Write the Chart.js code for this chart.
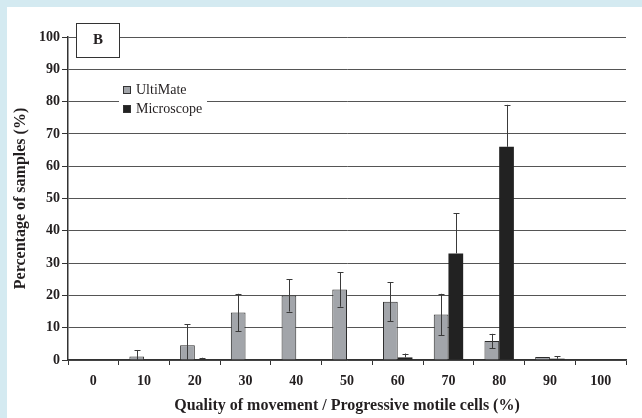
<!DOCTYPE html>
<html>
<head>
<meta charset="utf-8">
<script src="https://cdn.jsdelivr.net/npm/chart.js@4.4.1/dist/chart.umd.min.js"></script>
<style>
  html, body { margin: 0; padding: 0; background: #d4eaf1; }
  #panel { position: absolute; left: 7px; top: 7px; width: 635px; height: 411px; background: #fff; }
</style>
</head>
<body>
<div id="panel"><canvas id="qualityChart" width="635" height="411"></canvas></div>
<script>
// Chart data
const categories = ['0', '10', '20', '30', '40', '50', '60', '70', '80', '90', '100'];
const ultimateValues = [0, 1.1, 4.6, 14.7, 20, 21.8, 18, 14.1, 5.9, 0.9, 0];
const ultimateErrors = [0, 2, 6.4, 5.8, 5, 5.3, 6, 6.4, 2.2, 0, 0];
const microscopeValues = [0, 0, 0.2, 0, 0, 0, 0.8, 33, 66, 0.4, 0];
const microscopeErrors = [0, 0, 0.5, 0, 0, 0, 1.2, 12.4, 13, 0.7, 0];
const yTicks = [0, 10, 20, 30, 40, 50, 60, 70, 80, 90, 100];

const textColor = '#231f20';
const serif = "'Liberation Serif', 'Times New Roman', serif";

const errorBarPlugin = { // draws the error bars on top of the bars
  id: 'errorBars',
  afterDatasetsDraw(chart) {
    const ctx = chart.ctx;
    const yScale = chart.scales.y;
    const errors = [ultimateErrors, microscopeErrors];
    ctx.save();
    ctx.strokeStyle = '#3a3a3a';
    ctx.lineWidth = 1;
    chart.data.datasets.forEach((ds, i) => {
      const meta = chart.getDatasetMeta(i);
      const dark = i === 1; // lower half hidden inside the black bars
      meta.data.forEach((bar, j) => {
        const err = errors[i][j];
        if (!err) return;
        const v = ds.data[j];
        const top = yScale.getPixelForValue(v + err);
        const bottom = dark ? yScale.getPixelForValue(v) : yScale.getPixelForValue(Math.max(v - err, 0));
        const x = Math.round(bar.x) + 0.5;
        ctx.beginPath();
        ctx.moveTo(x, top);
        ctx.lineTo(x, bottom);
        ctx.moveTo(x - 3, Math.round(top) + 0.5);
        ctx.lineTo(x + 3, Math.round(top) + 0.5);
        if (!dark && v - err > 0) {
          ctx.moveTo(x - 3, Math.round(bottom) + 0.5);
          ctx.lineTo(x + 3, Math.round(bottom) + 0.5);
        }
        ctx.stroke();
      });
    });
    ctx.restore();
  }
};

const panelPlugin = { // panel label "B" and the legend box inside the plot
  id: 'panelLegend',
  afterDatasetsDraw(chart) {
    const ctx = chart.ctx;
    ctx.save();
    // B box
    ctx.fillStyle = '#fff';
    ctx.fillRect(69, 16, 43, 34);
    ctx.strokeStyle = '#333';
    ctx.lineWidth = 1;
    ctx.strokeRect(69.5, 16.5, 43, 34);
    ctx.fillStyle = textColor;
    ctx.font = 'bold 15px ' + serif;
    ctx.textAlign = 'center';
    ctx.textBaseline = 'middle';
    ctx.fillText('B', 91, 33.5);
    // legend
    ctx.fillStyle = '#fff';
    ctx.fillRect(112, 76, 88, 40);
    const items = chart.data.datasets;
    ctx.font = '14px ' + serif;
    ctx.textAlign = 'left';
    items.forEach((ds, i) => {
      const y = 79 + i * 19;
      ctx.fillStyle = ds.backgroundColor;
      ctx.fillRect(116, y, 8, 8);
      ctx.strokeStyle = '#333';
      ctx.strokeRect(116.5, y + 0.5, 7, 7);
      ctx.fillStyle = textColor;
      ctx.fillText(ds.label, 129, y + 4.5);
    });
    ctx.restore();
  }
};

const qualityChart = new Chart(document.getElementById('qualityChart'), {
  type: 'bar',
  data: {
    labels: categories,
    datasets: [
      {
        label: 'UltiMate',
        data: ultimateValues,
        backgroundColor: '#a2a5aa',
        borderColor: '#2b2b2b',
        borderWidth: 1
      },
      {
        label: 'Microscope',
        data: microscopeValues,
        backgroundColor: '#222222',
        borderWidth: 0
      }
    ]
  },
  options: {
    responsive: false,
    animation: false,
    layout: { padding: { top: 30, right: 16, left: 0, bottom: 0 } },
    datasets: { bar: { barPercentage: 1, categoryPercentage: 0.58 } },
    plugins: {
      legend: { display: false },
      tooltip: { enabled: false }
    },
    scales: {
      x: {
        offset: true,
        grid: { offset: true, drawOnChartArea: false, tickLength: 5, color: '#333', lineWidth: 1 },
        border: { color: '#333', width: 1.5 },
        ticks: { padding: 8, color: textColor, font: { family: serif, size: 14, weight: 'bold' } },
        title: {
          display: true,
          text: 'Quality of movement / Progressive motile cells (%)',
          color: textColor,
          font: { family: serif, size: 16, weight: 'bold' },
          padding: { top: 0, bottom: 3 }
        },
        afterFit(scale) { scale.height = 58; }
      },
      y: {
        min: 0,
        max: 100,
        afterBuildTicks(scale) { scale.ticks = yTicks.map(v => ({ value: v })); },
        grid: { color: '#555', lineWidth: 1, tickLength: 6, tickColor: '#333' },
        border: { color: '#333', width: 1.5 },
        ticks: { padding: 2, color: textColor, font: { family: serif, size: 14, weight: 'bold' } },
        title: {
          display: true,
          text: 'Percentage of samples (%)',
          color: textColor,
          font: { family: serif, size: 16, weight: 'bold' },
          padding: { top: 4, bottom: 0 }
        },
        afterFit(scale) { scale.width = 61; }
      }
    }
  },
  plugins: [errorBarPlugin, panelPlugin]
});
</script>
</body>
</html>
